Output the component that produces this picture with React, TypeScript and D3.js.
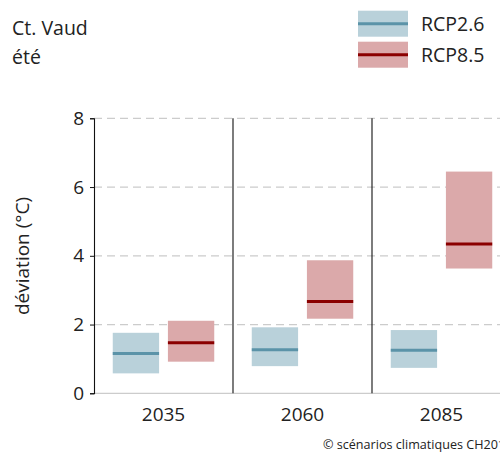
import * as d3 from "d3";
import { useEffect, useRef } from "react";

// data
const periods = ["2035", "2060", "2085"];
const scenarios = ["RCP2.6", "RCP8.5"];
const rcp26Low = [0.58, 0.79, 0.74];
const rcp26Med = [1.16, 1.27, 1.25];
const rcp26High = [1.76, 1.92, 1.84];
const rcp85Low = [0.92, 2.17, 3.63];
const rcp85Med = [1.47, 2.67, 4.34];
const rcp85High = [2.11, 3.87, 6.45];
const yTicks = [0, 2, 4, 6, 8];

const boxColors = ["#b9d1da", "#dba9aa"];
const medColors = ["#5b93a8", "#8b0000"];

const App = () => {
  const ref = useRef<SVGSVGElement>(null);
  const width = 500;
  const height = 454;

  useEffect(() => {
    const svg = d3.select(ref.current);
    svg.selectAll("*").remove();
    const font = "'Open Sans', 'Noto Sans', sans-serif";

    const margin = { top: 118.3, left: 94, bottom: 393.3 };
    const panel = 139;

    const x = d3
      .scaleBand()
      .domain(periods)
      .range([margin.left, margin.left + panel * periods.length])
      .padding(0);
    const xi = d3
      .scaleBand()
      .domain(scenarios)
      .range([0, x.bandwidth()])
      .paddingInner(0.16)
      .paddingOuter(0.34);
    const y = d3.scaleLinear().domain([0, 8]).range([margin.bottom, margin.top]);

    // grid lines
    svg
      .append("g")
      .selectAll("line")
      .data(yTicks.filter((d) => d > 0))
      .join("line")
      .attr("x1", margin.left)
      .attr("x2", width)
      .attr("y1", (d) => y(d))
      .attr("y2", (d) => y(d))
      .attr("stroke", "#cccccc")
      .attr("stroke-width", 1.2)
      .attr("stroke-dasharray", "8,5");

    // bottom axis line
    svg
      .append("line")
      .attr("x1", margin.left)
      .attr("x2", width)
      .attr("y1", y(0))
      .attr("y2", y(0))
      .attr("stroke", "#cccccc")
      .attr("stroke-width", 1.2);

    // separators
    svg
      .append("g")
      .selectAll("line")
      .data(periods.slice(1))
      .join("line")
      .attr("x1", (d) => x(d)!)
      .attr("x2", (d) => x(d)!)
      .attr("y1", y(8))
      .attr("y2", y(0))
      .attr("stroke", "#111")
      .attr("stroke-width", 1.1);

    const series = [
      { low: rcp26Low, med: rcp26Med, high: rcp26High },
      { low: rcp85Low, med: rcp85Med, high: rcp85High },
    ];

    series.forEach((s, si) => {
      const g = svg.append("g");
      g.selectAll("rect")
        .data(periods)
        .join("rect")
        .attr("x", (p) => x(p)! + xi(scenarios[si])!)
        .attr("width", xi.bandwidth())
        .attr("y", (_, i) => y(s.high[i]))
        .attr("height", (_, i) => y(s.low[i]) - y(s.high[i]))
        .attr("fill", boxColors[si]);
      g.selectAll("line")
        .data(periods)
        .join("line")
        .attr("x1", (p) => x(p)! + xi(scenarios[si])!)
        .attr("x2", (p) => x(p)! + xi(scenarios[si])! + xi.bandwidth())
        .attr("y1", (_, i) => y(s.med[i]))
        .attr("y2", (_, i) => y(s.med[i]))
        .attr("stroke", medColors[si])
        .attr("stroke-width", 3);
    });

    // y axis
    const yAxis = svg
      .append("g")
      .attr("transform", `translate(${margin.left},0)`)
      .call(d3.axisLeft(y).tickValues(yTicks).tickSize(4).tickPadding(6));
    yAxis.select(".domain").attr("stroke", "#111").attr("stroke-width", 1.1);
    yAxis.selectAll(".tick line").attr("stroke", "#111");
    yAxis
      .selectAll(".tick text")
      .attr("font-family", font)
      .attr("font-size", 19)
      .attr("fill", "#222");

    // x labels
    svg
      .append("g")
      .selectAll("text")
      .data(periods)
      .join("text")
      .attr("x", (d) => x(d)! + x.bandwidth() / 2)
      .attr("y", 421)
      .attr("text-anchor", "middle")
      .attr("font-family", font)
      .attr("font-size", 19)
      .attr("fill", "#222")
      .text((d) => d);

    // y title
    svg
      .append("text")
      .attr("transform", `translate(29,256) rotate(-90)`)
      .attr("text-anchor", "middle")
      .attr("font-family", font)
      .attr("font-size", 19)
      .attr("fill", "#222")
      .text("déviation (°C)");

    // titles
    svg
      .append("text")
      .attr("x", 12)
      .attr("y", 35)
      .attr("font-family", font)
      .attr("font-size", 19.5)
      .attr("fill", "#222")
      .text("Ct. Vaud");
    svg
      .append("text")
      .attr("x", 12)
      .attr("y", 64)
      .attr("font-family", font)
      .attr("font-size", 19.5)
      .attr("fill", "#222")
      .text("été");

    // legend
    const leg = svg
      .append("g")
      .selectAll("g")
      .data(scenarios)
      .join("g")
      .attr("transform", (_, i) => `translate(358,${10.7 + i * 31})`);
    leg
      .append("rect")
      .attr("width", 50)
      .attr("height", 26)
      .attr("fill", (_, i) => boxColors[i]);
    leg
      .append("line")
      .attr("x1", 0)
      .attr("x2", 50)
      .attr("y1", 13)
      .attr("y2", 13)
      .attr("stroke", (_, i) => medColors[i])
      .attr("stroke-width", 3);
    leg
      .append("text")
      .attr("x", 63)
      .attr("y", 20.5)
      .attr("font-family", font)
      .attr("font-size", 19.5)
      .attr("fill", "#222")
      .text((d) => d);

    // source
    svg
      .append("text")
      .attr("x", 323)
      .attr("y", 449)
      .attr("font-family", font)
      .attr("font-size", 12.6)
      .attr("fill", "#222")
      .text("© scénarios climatiques CH2018");
  }, []);

  return (
    <svg
      ref={ref}
      width={width}
      height={height}
      style={{ position: "absolute", left: 0, top: 0, background: "#fff" }}
    ></svg>
  );
};

export default App;
